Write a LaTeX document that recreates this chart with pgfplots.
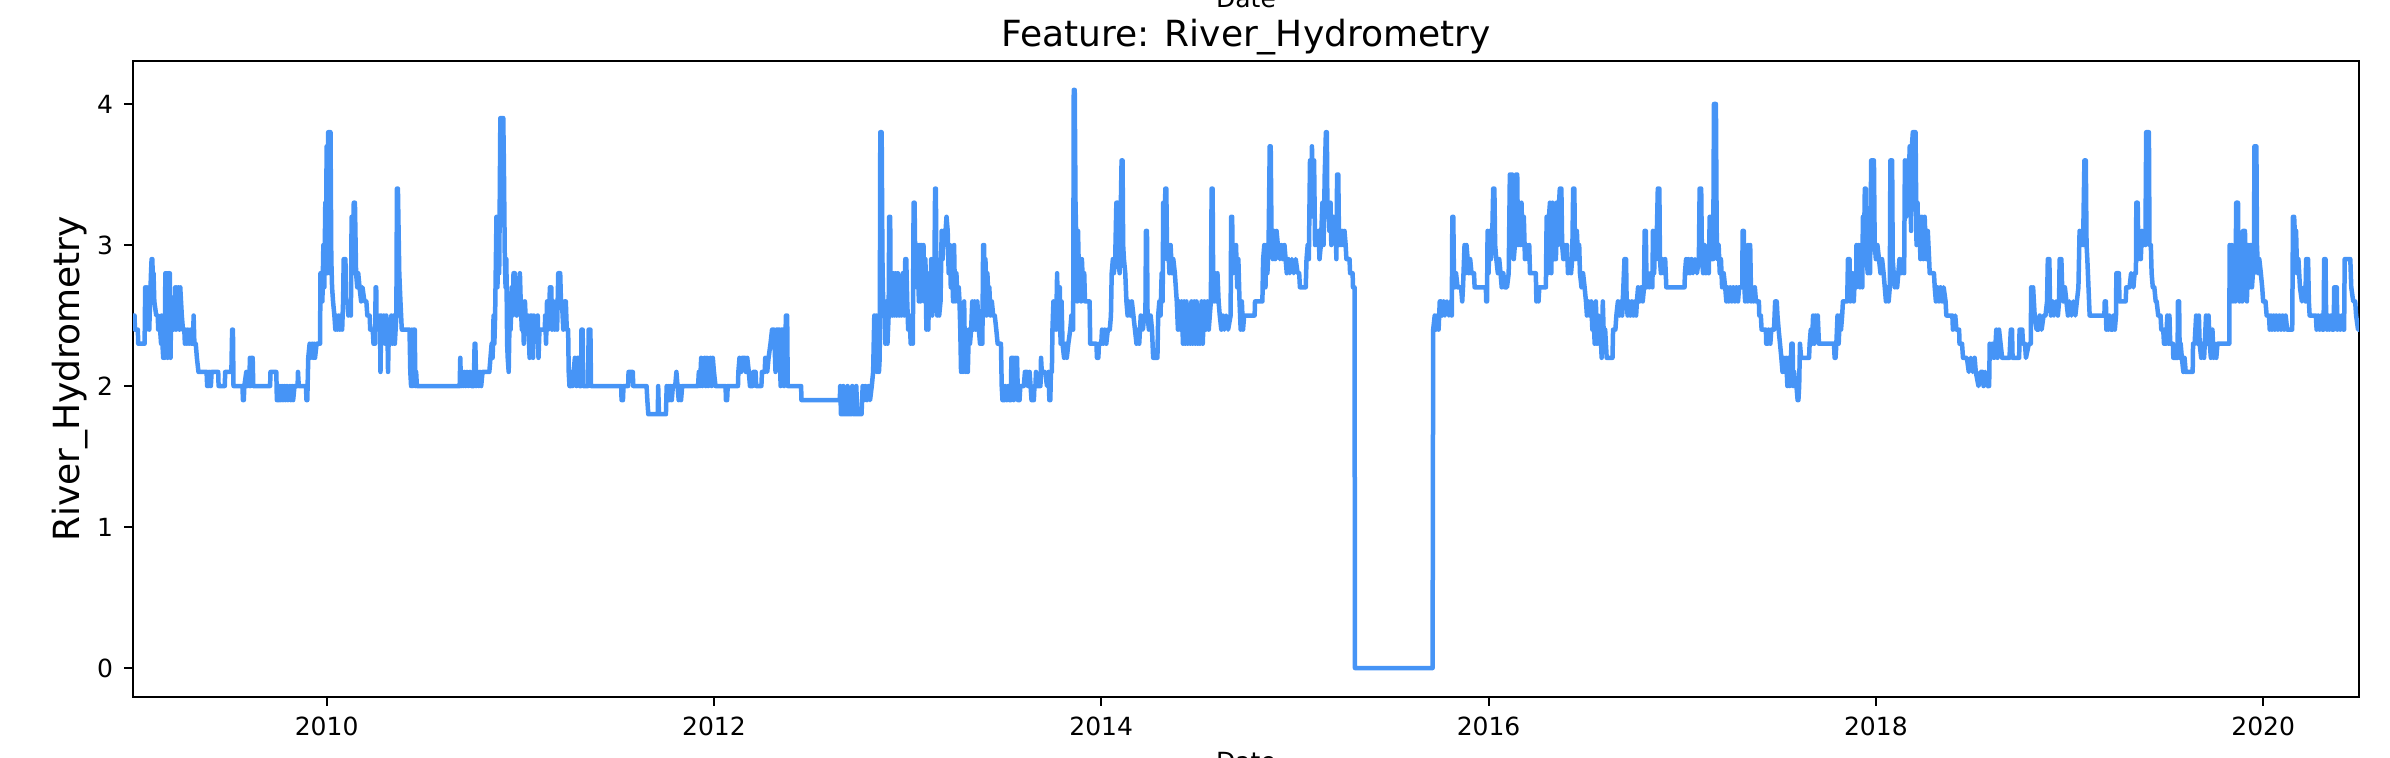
\documentclass[border=0pt]{standalone}
\usepackage{fontspec}
\setmainfont{DejaVu Sans}
\usepackage{pgfplots}
\pgfplotsset{compat=1.18}
\definecolor{lineblue}{RGB}{70,148,246}
\begin{document}
\begin{tikzpicture}
\begin{axis}[
 scale only axis, width=890.4pt, height=254.4pt,
 xmin=2009.0, xmax=2020.495, ymin=-0.205, ymax=4.305,
 xtick={2010,2012,2014,2016,2018,2020}, xticklabels={2010,2012,2014,2016,2018,2020},
 ytick={0,1,2,3,4}, yticklabels={0,1,2,3,4},
 tick align=outside, major tick length=3.5pt,
 xtick pos=bottom, ytick pos=left,
 every tick/.style={black, line width=0.8pt},
 axis line style={line width=0.8pt},
 tick label style={font=\fontsize{10}{12}\selectfont},
 xticklabel style={yshift=-1pt}, yticklabel style={xshift=-1pt},
 minor tick num=0,
]
\addplot[lineblue, line width=1.8pt, line join=round] table {
x y
2009.000 2.5
2009.008 2.5
2009.010 2.4
2009.025 2.4
2009.027 2.3
2009.060 2.3
2009.063 2.7
2009.068 2.4
2009.072 2.7
2009.077 2.5
2009.081 2.6
2009.084 2.4
2009.088 2.6
2009.093 2.8
2009.096 2.9
2009.100 2.9
2009.103 2.7
2009.106 2.8
2009.110 2.6
2009.120 2.5
2009.128 2.5
2009.130 2.4
2009.140 2.4
2009.145 2.3
2009.148 2.5
2009.152 2.3
2009.156 2.2
2009.160 2.4
2009.164 2.2
2009.167 2.8
2009.172 2.3
2009.175 2.8
2009.179 2.2
2009.183 2.8
2009.187 2.4
2009.190 2.8
2009.194 2.2
2009.197 2.6
2009.200 2.4
2009.205 2.5
2009.210 2.4
2009.214 2.5
2009.218 2.7
2009.222 2.4
2009.226 2.7
2009.231 2.5
2009.235 2.7
2009.240 2.4
2009.244 2.7
2009.248 2.6
2009.252 2.5
2009.258 2.4
2009.265 2.4
2009.268 2.3
2009.273 2.4
2009.278 2.3
2009.283 2.4
2009.290 2.3
2009.296 2.4
2009.302 2.3
2009.310 2.3
2009.313 2.5
2009.317 2.3
2009.324 2.3
2009.330 2.2
2009.338 2.1
2009.380 2.1
2009.383 2.0
2009.387 2.1
2009.392 2.0
2009.397 2.1
2009.402 2.0
2009.406 2.1
2009.440 2.1
2009.442 2.0
2009.474 2.0
2009.476 2.1
2009.508 2.1
2009.512 2.4
2009.516 2.4
2009.519 2.0
2009.565 2.0
2009.568 1.9
2009.572 1.9
2009.575 2.0
2009.585 2.1
2009.590 2.0
2009.595 2.1
2009.600 2.0
2009.604 2.2
2009.608 2.0
2009.612 2.2
2009.618 2.2
2009.621 2.0
2009.708 2.0
2009.710 2.1
2009.740 2.1
2009.743 1.9
2009.755 1.9
2009.758 2.0
2009.763 1.9
2009.770 2.0
2009.775 1.9
2009.782 2.0
2009.787 1.9
2009.795 2.0
2009.800 1.9
2009.810 2.0
2009.815 1.9
2009.822 2.0
2009.827 1.9
2009.834 2.0
2009.850 2.0
2009.852 2.1
2009.856 2.0
2009.893 2.0
2009.896 1.9
2009.900 1.9
2009.905 2.2
2009.912 2.3
2009.916 2.2
2009.925 2.3
2009.930 2.2
2009.935 2.3
2009.940 2.2
2009.948 2.3
2009.966 2.3
2009.968 2.8
2009.975 2.8
2009.978 2.6
2009.983 3.0
2009.988 2.7
2009.993 3.3
2009.996 2.9
2010.000 3.7
2010.004 2.8
2010.008 3.8
2010.020 3.8
2010.024 2.9
2010.028 2.7
2010.033 2.6
2010.040 2.5
2010.045 2.4
2010.050 2.5
2010.055 2.4
2010.062 2.5
2010.068 2.4
2010.074 2.5
2010.080 2.4
2010.085 2.6
2010.088 2.9
2010.097 2.9
2010.100 2.6
2010.108 2.6
2010.112 2.5
2010.117 2.6
2010.125 2.5
2010.129 3.2
2010.134 2.8
2010.140 3.3
2010.146 3.3
2010.152 2.8
2010.158 2.7
2010.163 2.8
2010.170 2.7
2010.178 2.6
2010.185 2.7
2010.195 2.6
2010.205 2.6
2010.210 2.5
2010.222 2.5
2010.225 2.4
2010.238 2.4
2010.242 2.3
2010.250 2.3
2010.253 2.7
2010.256 2.7
2010.258 2.4
2010.262 2.5
2010.270 2.4
2010.275 2.5
2010.278 2.1
2010.282 2.5
2010.290 2.4
2010.295 2.5
2010.302 2.3
2010.308 2.5
2010.314 2.4
2010.317 2.1
2010.321 2.4
2010.328 2.3
2010.334 2.5
2010.340 2.3
2010.346 2.5
2010.352 2.3
2010.360 2.5
2010.363 3.4
2010.368 3.4
2010.375 2.8
2010.381 2.6
2010.388 2.4
2010.428 2.4
2010.432 2.1
2010.436 2.0
2010.440 2.4
2010.445 2.0
2010.450 2.4
2010.455 2.4
2010.458 2.0
2010.462 2.1
2010.466 2.0
2010.687 2.0
2010.690 2.2
2010.694 2.0
2010.700 2.1
2010.705 2.0
2010.712 2.1
2010.718 2.0
2010.725 2.1
2010.732 2.0
2010.740 2.1
2010.748 2.0
2010.760 2.0
2010.764 2.3
2010.768 2.3
2010.772 2.0
2010.780 2.1
2010.786 2.0
2010.792 2.1
2010.798 2.0
2010.805 2.1
2010.840 2.1
2010.846 2.2
2010.852 2.3
2010.857 2.2
2010.862 2.5
2010.866 2.3
2010.870 2.5
2010.877 3.2
2010.882 2.7
2010.887 3.2
2010.891 2.8
2010.897 3.9
2010.912 3.9
2010.915 3.6
2010.920 2.9
2010.924 2.7
2010.928 2.9
2010.932 2.3
2010.935 2.2
2010.940 2.1
2010.946 2.6
2010.950 2.4
2010.955 2.7
2010.960 2.5
2010.965 2.8
2010.972 2.8
2010.976 2.6
2010.982 2.5
2010.990 2.6
2010.998 2.8
2011.002 2.6
2011.008 2.4
2011.012 2.6
2011.018 2.3
2011.024 2.6
2011.030 2.4
2011.040 2.5
2011.048 2.2
2011.053 2.5
2011.060 2.5
2011.066 2.2
2011.070 2.5
2011.076 2.4
2011.084 2.4
2011.090 2.5
2011.094 2.2
2011.099 2.4
2011.127 2.4
2011.128 2.5
2011.133 2.3
2011.138 2.6
2011.143 2.4
2011.148 2.5
2011.153 2.7
2011.160 2.7
2011.164 2.4
2011.172 2.6
2011.178 2.4
2011.184 2.5
2011.190 2.4
2011.196 2.8
2011.206 2.8
2011.210 2.6
2011.215 2.6
2011.222 2.4
2011.228 2.6
2011.235 2.6
2011.240 2.4
2011.247 2.4
2011.250 2.1
2011.254 2.0
2011.262 2.0
2011.265 2.1
2011.270 2.0
2011.275 2.1
2011.282 2.2
2011.290 2.0
2011.295 2.2
2011.303 2.2
2011.306 2.0
2011.314 2.0
2011.316 2.4
2011.322 2.4
2011.325 2.0
2011.350 2.0
2011.353 2.4
2011.362 2.4
2011.365 2.0
2011.521 2.0
2011.523 1.9
2011.530 1.9
2011.533 2.0
2011.557 2.0
2011.559 2.1
2011.581 2.1
2011.583 2.0
2011.652 2.0
2011.656 1.9
2011.661 1.8
2011.710 1.8
2011.712 2.0
2011.716 1.8
2011.752 1.8
2011.756 2.0
2011.762 1.9
2011.767 2.0
2011.772 1.9
2011.777 2.0
2011.782 1.9
2011.788 2.0
2011.800 2.0
2011.806 2.1
2011.812 2.0
2011.818 1.9
2011.824 2.0
2011.830 1.9
2011.836 2.0
2011.918 2.0
2011.922 2.1
2011.928 2.0
2011.934 2.2
2011.940 2.0
2011.946 2.1
2011.952 2.2
2011.958 2.0
2011.964 2.2
2011.970 2.0
2011.976 2.1
2011.982 2.2
2011.988 2.0
2011.994 2.2
2012.000 2.1
2012.008 2.0
2012.060 2.0
2012.062 1.9
2012.068 1.9
2012.071 2.0
2012.124 2.0
2012.126 2.1
2012.132 2.2
2012.140 2.1
2012.146 2.2
2012.160 2.2
2012.165 2.1
2012.172 2.2
2012.180 2.1
2012.186 2.0
2012.200 2.0
2012.203 2.1
2012.215 2.1
2012.218 2.0
2012.245 2.0
2012.248 2.1
2012.262 2.1
2012.265 2.2
2012.275 2.1
2012.282 2.2
2012.292 2.3
2012.300 2.4
2012.310 2.4
2012.318 2.1
2012.322 2.4
2012.340 2.4
2012.344 2.0
2012.348 2.4
2012.355 2.4
2012.362 2.0
2012.372 2.5
2012.378 2.5
2012.381 2.0
2012.450 2.0
2012.452 1.9
2012.650 1.9
2012.652 2.0
2012.656 1.8
2012.665 1.8
2012.668 2.0
2012.672 1.8
2012.688 1.8
2012.690 2.0
2012.694 1.8
2012.710 1.8
2012.714 2.0
2012.720 1.8
2012.732 1.8
2012.735 2.0
2012.740 1.8
2012.762 1.8
2012.768 2.0
2012.775 1.9
2012.782 2.0
2012.790 1.9
2012.798 2.0
2012.806 1.9
2012.815 2.0
2012.822 2.1
2012.828 2.5
2012.833 2.2
2012.838 2.5
2012.842 2.1
2012.848 2.4
2012.852 2.1
2012.856 2.2
2012.859 3.8
2012.866 3.8
2012.870 2.9
2012.875 2.5
2012.880 2.6
2012.885 2.3
2012.890 2.6
2012.896 2.3
2012.902 2.5
2012.905 3.2
2012.910 3.2
2012.913 2.5
2012.918 2.8
2012.922 2.5
2012.927 2.8
2012.932 2.5
2012.938 2.8
2012.944 2.5
2012.950 2.8
2012.956 2.5
2012.962 2.7
2012.968 2.5
2012.975 2.8
2012.983 2.5
2012.988 2.9
2012.993 2.9
2012.998 2.6
2013.003 2.4
2013.010 2.5
2013.016 2.3
2013.022 2.4
2013.027 2.3
2013.031 3.3
2013.036 3.3
2013.040 2.8
2013.044 3.0
2013.048 2.7
2013.053 3.0
2013.058 2.6
2013.063 3.0
2013.067 2.6
2013.072 3.0
2013.077 2.7
2013.082 3.0
2013.087 2.6
2013.092 2.9
2013.097 2.4
2013.102 2.7
2013.107 2.4
2013.112 2.8
2013.117 2.5
2013.122 2.9
2013.127 2.5
2013.132 2.9
2013.137 2.6
2013.142 3.4
2013.146 3.4
2013.149 2.7
2013.153 2.5
2013.158 2.6
2013.163 2.5
2013.170 2.6
2013.176 3.1
2013.181 2.9
2013.186 3.1
2013.191 3.0
2013.196 3.1
2013.201 3.2
2013.207 3.1
2013.212 2.8
2013.218 3.0
2013.223 2.7
2013.228 2.9
2013.235 2.6
2013.240 3.0
2013.245 2.6
2013.252 2.8
2013.258 2.6
2013.264 2.7
2013.268 2.6
2013.272 2.4
2013.276 2.1
2013.282 2.3
2013.286 2.1
2013.292 2.6
2013.296 2.2
2013.300 2.1
2013.306 2.3
2013.311 2.1
2013.316 2.4
2013.322 2.3
2013.328 2.4
2013.334 2.6
2013.340 2.4
2013.346 2.6
2013.352 2.4
2013.360 2.6
2013.368 2.4
2013.374 2.3
2013.386 2.3
2013.390 3.0
2013.395 3.0
2013.398 2.6
2013.402 2.9
2013.407 2.5
2013.412 2.8
2013.418 2.6
2013.422 2.7
2013.428 2.5
2013.435 2.6
2013.442 2.5
2013.450 2.5
2013.458 2.4
2013.465 2.3
2013.482 2.3
2013.486 2.0
2013.490 1.9
2013.500 1.9
2013.504 2.0
2013.512 1.9
2013.520 2.0
2013.526 1.9
2013.533 1.9
2013.536 2.2
2013.545 2.2
2013.548 1.9
2013.555 2.2
2013.560 2.0
2013.565 2.2
2013.570 1.9
2013.578 1.9
2013.582 2.0
2013.600 2.0
2013.606 2.1
2013.618 2.1
2013.622 2.0
2013.630 2.1
2013.635 2.0
2013.640 1.9
2013.652 1.9
2013.655 2.0
2013.660 2.0
2013.663 2.1
2013.668 2.0
2013.686 2.0
2013.689 2.2
2013.693 2.1
2013.710 2.1
2013.720 2.0
2013.728 2.1
2013.732 1.9
2013.737 1.9
2013.740 2.1
2013.745 2.1
2013.748 2.4
2013.753 2.6
2013.758 2.4
2013.763 2.6
2013.767 2.4
2013.772 2.8
2013.776 2.5
2013.781 2.4
2013.786 2.7
2013.790 2.3
2013.795 2.6
2013.800 2.3
2013.808 2.2
2013.815 2.3
2013.822 2.2
2013.830 2.3
2013.840 2.4
2013.846 2.5
2013.855 2.4
2013.858 4.1
2013.863 4.1
2013.867 3.3
2013.870 3.1
2013.876 2.6
2013.880 3.1
2013.886 2.7
2013.890 2.9
2013.896 2.6
2013.900 2.9
2013.906 2.7
2013.912 2.8
2013.916 2.6
2013.940 2.6
2013.943 2.3
2013.975 2.3
2013.978 2.2
2013.985 2.2
2013.988 2.3
2014.000 2.3
2014.004 2.4
2014.010 2.3
2014.018 2.4
2014.026 2.3
2014.034 2.4
2014.044 2.4
2014.050 2.5
2014.054 2.8
2014.060 2.9
2014.065 2.8
2014.072 2.9
2014.078 3.3
2014.085 3.3
2014.088 2.9
2014.095 2.8
2014.100 3.2
2014.105 3.6
2014.110 3.6
2014.113 3.0
2014.117 2.9
2014.124 2.8
2014.130 2.6
2014.136 2.5
2014.142 2.6
2014.150 2.5
2014.158 2.6
2014.166 2.5
2014.174 2.4
2014.182 2.3
2014.188 2.4
2014.196 2.3
2014.204 2.5
2014.215 2.4
2014.222 2.5
2014.228 2.5
2014.231 3.1
2014.236 3.1
2014.239 2.5
2014.246 2.4
2014.255 2.5
2014.262 2.4
2014.268 2.2
2014.290 2.2
2014.294 2.5
2014.300 2.6
2014.306 2.5
2014.312 2.8
2014.317 2.6
2014.320 3.3
2014.325 3.0
2014.331 3.4
2014.336 3.4
2014.340 2.9
2014.346 3.0
2014.352 2.8
2014.358 3.0
2014.365 2.8
2014.372 2.9
2014.380 2.8
2014.390 2.6
2014.396 2.4
2014.402 2.6
2014.408 2.4
2014.415 2.6
2014.422 2.3
2014.428 2.6
2014.434 2.3
2014.440 2.6
2014.446 2.3
2014.452 2.5
2014.460 2.3
2014.466 2.6
2014.472 2.3
2014.480 2.6
2014.486 2.3
2014.492 2.6
2014.498 2.3
2014.504 2.5
2014.510 2.3
2014.518 2.6
2014.524 2.3
2014.532 2.6
2014.540 2.4
2014.548 2.6
2014.555 2.4
2014.566 2.6
2014.570 3.4
2014.575 3.4
2014.578 2.7
2014.583 2.6
2014.588 2.8
2014.594 2.6
2014.600 2.8
2014.606 2.6
2014.612 2.5
2014.620 2.4
2014.628 2.5
2014.636 2.4
2014.645 2.5
2014.655 2.4
2014.668 2.5
2014.671 3.2
2014.676 3.2
2014.679 2.8
2014.684 3.0
2014.690 2.9
2014.696 3.0
2014.702 2.7
2014.708 2.9
2014.714 2.6
2014.720 2.4
2014.726 2.6
2014.732 2.4
2014.738 2.5
2014.792 2.5
2014.794 2.6
2014.832 2.6
2014.836 2.9
2014.842 3.0
2014.848 2.7
2014.853 3.0
2014.858 2.8
2014.864 3.0
2014.870 3.7
2014.875 3.7
2014.879 3.1
2014.886 2.9
2014.892 3.1
2014.898 2.9
2014.905 3.1
2014.912 3.0
2014.922 2.9
2014.930 3.0
2014.938 2.9
2014.946 3.0
2014.952 2.9
2014.958 2.8
2014.966 2.9
2014.974 2.8
2014.984 2.9
2014.994 2.8
2015.004 2.9
2015.014 2.8
2015.022 2.8
2015.026 2.7
2015.056 2.7
2015.060 2.9
2015.066 3.0
2015.072 2.9
2015.078 3.6
2015.083 3.2
2015.088 3.7
2015.094 3.3
2015.099 3.6
2015.104 3.0
2015.110 3.1
2015.116 3.0
2015.122 3.1
2015.127 2.9
2015.134 3.0
2015.142 3.3
2015.148 3.0
2015.154 3.5
2015.160 3.8
2015.165 3.8
2015.168 3.2
2015.172 3.3
2015.178 3.1
2015.184 3.3
2015.188 3.0
2015.193 3.1
2015.198 3.2
2015.204 3.1
2015.210 3.2
2015.214 2.9
2015.218 3.5
2015.224 3.5
2015.228 3.0
2015.232 3.1
2015.238 3.0
2015.244 3.1
2015.250 3.0
2015.256 3.1
2015.262 3.0
2015.266 2.9
2015.282 2.9
2015.285 2.8
2015.298 2.8
2015.300 2.7
2015.308 2.7
2015.310 0
2015.711 0
2015.714 2.4
2015.722 2.5
2015.728 2.4
2015.735 2.5
2015.742 2.4
2015.748 2.6
2015.755 2.6
2015.760 2.5
2015.768 2.6
2015.775 2.5
2015.785 2.6
2015.795 2.5
2015.805 2.6
2015.810 2.5
2015.813 3.2
2015.818 3.2
2015.821 2.8
2015.826 2.7
2015.832 2.8
2015.840 2.7
2015.850 2.7
2015.858 2.7
2015.864 2.6
2015.868 2.7
2015.876 3.0
2015.881 2.8
2015.886 3.0
2015.892 2.9
2015.898 2.8
2015.905 2.9
2015.912 2.8
2015.925 2.8
2015.928 2.7
2015.986 2.7
2015.988 2.6
2015.992 2.6
2015.995 3.1
2016.000 2.8
2016.006 3.1
2016.012 2.9
2016.018 3.0
2016.024 3.4
2016.030 3.4
2016.034 3.0
2016.040 2.9
2016.048 2.8
2016.055 2.9
2016.062 2.8
2016.068 2.7
2016.076 2.8
2016.084 2.7
2016.095 2.7
2016.104 2.8
2016.110 3.5
2016.122 3.5
2016.125 3.0
2016.130 2.9
2016.136 3.0
2016.142 3.5
2016.148 3.5
2016.152 3.0
2016.158 3.3
2016.164 3.0
2016.170 3.3
2016.176 3.0
2016.182 3.2
2016.188 2.9
2016.195 3.0
2016.202 2.9
2016.210 3.0
2016.214 2.8
2016.244 2.8
2016.247 2.6
2016.252 2.7
2016.258 2.6
2016.262 2.7
2016.296 2.7
2016.300 3.2
2016.306 2.8
2016.312 3.2
2016.317 3.3
2016.324 2.8
2016.330 3.3
2016.334 2.9
2016.348 2.9
2016.351 3.3
2016.358 3.0
2016.364 3.3
2016.368 3.4
2016.376 3.4
2016.380 3.0
2016.386 2.9
2016.392 3.0
2016.398 2.9
2016.405 3.0
2016.410 2.8
2016.418 2.9
2016.426 2.8
2016.432 2.9
2016.437 3.4
2016.443 3.4
2016.446 3.0
2016.450 2.9
2016.456 3.1
2016.462 2.9
2016.468 3.0
2016.472 2.8
2016.480 2.7
2016.488 2.8
2016.496 2.7
2016.503 2.6
2016.508 2.5
2016.515 2.6
2016.522 2.5
2016.530 2.6
2016.536 2.4
2016.542 2.5
2016.548 2.3
2016.554 2.6
2016.560 2.3
2016.566 2.5
2016.572 2.3
2016.578 2.4
2016.584 2.2
2016.590 2.6
2016.596 2.3
2016.602 2.4
2016.610 2.2
2016.640 2.2
2016.643 2.4
2016.655 2.4
2016.660 2.5
2016.668 2.6
2016.676 2.5
2016.684 2.6
2016.690 2.5
2016.702 2.9
2016.710 2.9
2016.713 2.6
2016.718 2.5
2016.725 2.6
2016.732 2.5
2016.740 2.6
2016.748 2.5
2016.756 2.6
2016.762 2.5
2016.766 2.6
2016.772 2.7
2016.780 2.6
2016.788 2.7
2016.796 2.6
2016.803 2.7
2016.806 3.1
2016.812 3.1
2016.816 2.7
2016.822 2.8
2016.830 2.7
2016.838 2.8
2016.846 2.7
2016.849 3.1
2016.855 2.8
2016.861 3.1
2016.866 2.9
2016.874 3.4
2016.882 3.4
2016.885 2.9
2016.890 2.8
2016.897 2.9
2016.905 2.8
2016.912 2.9
2016.918 2.7
2017.012 2.7
2017.014 2.8
2017.020 2.9
2017.026 2.8
2017.032 2.9
2017.040 2.8
2017.048 2.9
2017.056 2.8
2017.066 2.9
2017.076 2.8
2017.086 2.9
2017.090 3.4
2017.098 3.4
2017.102 2.9
2017.108 2.8
2017.115 3.0
2017.122 2.8
2017.130 2.9
2017.137 2.8
2017.142 3.2
2017.150 3.2
2017.153 2.9
2017.160 2.9
2017.164 4.0
2017.174 4.0
2017.178 3.1
2017.182 2.9
2017.188 3.0
2017.194 2.8
2017.200 2.9
2017.206 2.7
2017.214 2.8
2017.222 2.7
2017.228 2.6
2017.234 2.7
2017.240 2.6
2017.248 2.7
2017.256 2.6
2017.264 2.7
2017.272 2.6
2017.280 2.7
2017.288 2.6
2017.294 2.7
2017.310 2.7
2017.312 3.1
2017.318 3.1
2017.321 2.7
2017.325 2.6
2017.332 2.7
2017.338 2.6
2017.340 3.0
2017.346 2.7
2017.351 3.0
2017.356 2.6
2017.362 2.7
2017.368 2.6
2017.375 2.7
2017.381 2.6
2017.396 2.6
2017.398 2.5
2017.406 2.5
2017.410 2.4
2017.432 2.4
2017.434 2.3
2017.442 2.3
2017.446 2.4
2017.455 2.3
2017.460 2.4
2017.474 2.4
2017.477 2.5
2017.480 2.6
2017.488 2.6
2017.492 2.5
2017.498 2.4
2017.505 2.3
2017.512 2.2
2017.518 2.1
2017.524 2.2
2017.530 2.1
2017.537 2.2
2017.543 2.0
2017.549 2.2
2017.555 2.0
2017.560 2.1
2017.564 2.3
2017.570 2.3
2017.573 2.0
2017.578 2.1
2017.584 2.0
2017.590 2.0
2017.596 1.9
2017.600 1.9
2017.604 2.0
2017.608 2.3
2017.614 2.2
2017.655 2.2
2017.658 2.3
2017.664 2.4
2017.670 2.3
2017.676 2.5
2017.682 2.3
2017.688 2.5
2017.694 2.4
2017.700 2.5
2017.706 2.3
2017.784 2.3
2017.787 2.2
2017.792 2.2
2017.796 2.3
2017.802 2.5
2017.808 2.3
2017.814 2.5
2017.820 2.4
2017.826 2.5
2017.830 2.6
2017.852 2.6
2017.856 2.9
2017.864 2.9
2017.868 2.6
2017.874 2.7
2017.880 2.8
2017.886 2.6
2017.892 2.8
2017.898 2.7
2017.900 3.0
2017.906 2.8
2017.912 3.0
2017.918 2.7
2017.924 2.8
2017.930 2.7
2017.933 3.2
2017.938 2.9
2017.943 3.4
2017.948 3.4
2017.952 2.9
2017.958 2.8
2017.965 3.0
2017.970 2.8
2017.976 3.6
2017.990 3.6
2017.994 3.0
2018.000 2.9
2018.008 3.0
2018.016 2.9
2018.024 2.8
2018.032 2.9
2018.040 2.8
2018.046 2.7
2018.052 2.6
2018.058 2.7
2018.066 2.6
2018.072 2.7
2018.075 3.6
2018.084 3.6
2018.087 2.9
2018.092 2.8
2018.098 2.7
2018.104 2.8
2018.110 2.7
2018.116 2.8
2018.122 2.9
2018.130 2.8
2018.138 2.9
2018.146 2.8
2018.150 3.6
2018.156 3.2
2018.162 3.6
2018.168 3.4
2018.175 3.7
2018.182 3.1
2018.186 3.7
2018.191 3.8
2018.205 3.8
2018.210 3.0
2018.215 3.3
2018.220 3.0
2018.225 3.2
2018.230 2.9
2018.238 3.2
2018.245 2.9
2018.252 3.2
2018.260 2.9
2018.268 3.1
2018.275 2.9
2018.278 2.8
2018.300 2.8
2018.304 2.7
2018.310 2.6
2018.318 2.7
2018.326 2.6
2018.334 2.7
2018.342 2.6
2018.350 2.7
2018.360 2.6
2018.364 2.5
2018.395 2.5
2018.398 2.4
2018.410 2.5
2018.416 2.4
2018.430 2.4
2018.432 2.3
2018.445 2.3
2018.450 2.2
2018.470 2.2
2018.480 2.1
2018.490 2.2
2018.500 2.1
2018.510 2.2
2018.516 2.1
2018.530 2.0
2018.540 2.1
2018.552 2.1
2018.556 2.0
2018.565 2.1
2018.575 2.0
2018.585 2.0
2018.588 2.3
2018.595 2.2
2018.602 2.3
2018.610 2.2
2018.618 2.3
2018.622 2.4
2018.628 2.2
2018.636 2.4
2018.644 2.3
2018.652 2.2
2018.690 2.2
2018.697 2.4
2018.703 2.4
2018.706 2.2
2018.740 2.2
2018.742 2.4
2018.756 2.4
2018.760 2.3
2018.770 2.3
2018.775 2.2
2018.790 2.3
2018.800 2.3
2018.802 2.7
2018.808 2.6
2018.812 2.7
2018.820 2.5
2018.830 2.4
2018.840 2.4
2018.846 2.5
2018.856 2.4
2018.866 2.5
2018.876 2.5
2018.884 2.6
2018.888 2.9
2018.896 2.9
2018.899 2.6
2018.904 2.5
2018.912 2.6
2018.920 2.5
2018.930 2.6
2018.940 2.5
2018.946 2.6
2018.949 2.9
2018.958 2.9
2018.962 2.7
2018.968 2.6
2018.976 2.7
2018.984 2.6
2018.992 2.5
2019.000 2.6
2019.010 2.5
2019.020 2.6
2019.030 2.5
2019.038 2.6
2019.046 2.7
2019.052 3.1
2019.058 3.0
2019.062 3.1
2019.070 3.0
2019.077 3.6
2019.084 3.6
2019.088 3.0
2019.092 2.9
2019.098 2.7
2019.104 2.5
2019.180 2.5
2019.182 2.6
2019.188 2.6
2019.190 2.4
2019.195 2.5
2019.200 2.4
2019.206 2.5
2019.214 2.4
2019.222 2.4
2019.228 2.5
2019.234 2.4
2019.240 2.5
2019.242 2.8
2019.255 2.8
2019.258 2.6
2019.290 2.6
2019.293 2.7
2019.310 2.7
2019.318 2.8
2019.330 2.7
2019.336 2.8
2019.343 2.8
2019.345 3.3
2019.352 3.3
2019.356 2.9
2019.362 3.1
2019.368 2.9
2019.374 3.1
2019.380 3.0
2019.386 3.1
2019.392 3.0
2019.396 3.8
2019.410 3.8
2019.413 3.0
2019.420 3.0
2019.424 2.8
2019.430 2.7
2019.438 2.7
2019.445 2.6
2019.450 2.6
2019.458 2.5
2019.470 2.5
2019.474 2.4
2019.484 2.4
2019.488 2.3
2019.498 2.3
2019.505 2.5
2019.512 2.3
2019.516 2.5
2019.520 2.3
2019.534 2.3
2019.536 2.2
2019.558 2.2
2019.560 2.6
2019.566 2.6
2019.569 2.2
2019.574 2.3
2019.580 2.2
2019.588 2.1
2019.594 2.2
2019.600 2.1
2019.636 2.1
2019.638 2.3
2019.646 2.3
2019.654 2.5
2019.662 2.3
2019.668 2.5
2019.672 2.3
2019.680 2.2
2019.686 2.3
2019.695 2.2
2019.705 2.5
2019.712 2.3
2019.718 2.5
2019.724 2.3
2019.730 2.2
2019.738 2.4
2019.744 2.2
2019.750 2.3
2019.758 2.2
2019.764 2.3
2019.825 2.3
2019.827 3.0
2019.832 2.6
2019.838 3.0
2019.844 2.6
2019.850 2.9
2019.856 2.6
2019.861 3.3
2019.870 3.3
2019.874 2.7
2019.878 2.6
2019.885 2.7
2019.892 2.6
2019.896 3.1
2019.906 3.1
2019.910 2.7
2019.916 2.6
2019.922 3.0
2019.930 2.7
2019.936 3.0
2019.942 2.7
2019.947 2.8
2019.952 2.8
2019.955 3.7
2019.965 3.7
2019.968 3.0
2019.974 2.8
2019.980 2.9
2019.988 2.8
2019.995 2.7
2020.000 2.6
2020.012 2.6
2020.018 2.5
2020.030 2.5
2020.034 2.4
2020.040 2.5
2020.046 2.4
2020.054 2.5
2020.060 2.4
2020.068 2.5
2020.076 2.4
2020.084 2.5
2020.092 2.4
2020.100 2.5
2020.108 2.4
2020.116 2.5
2020.124 2.4
2020.150 2.4
2020.154 3.2
2020.160 3.2
2020.163 3.1
2020.170 3.1
2020.175 2.8
2020.182 2.9
2020.190 2.7
2020.200 2.6
2020.210 2.7
2020.218 2.6
2020.222 2.9
2020.232 2.9
2020.236 2.6
2020.240 2.5
2020.272 2.5
2020.276 2.4
2020.284 2.5
2020.292 2.4
2020.300 2.5
2020.306 2.4
2020.312 2.4
2020.315 2.9
2020.322 2.9
2020.325 2.5
2020.330 2.4
2020.336 2.5
2020.342 2.4
2020.350 2.5
2020.356 2.4
2020.364 2.4
2020.367 2.7
2020.380 2.7
2020.383 2.4
2020.390 2.5
2020.398 2.4
2020.406 2.5
2020.414 2.4
2020.418 2.4
2020.421 2.9
2020.450 2.9
2020.455 2.7
2020.465 2.6
2020.475 2.6
2020.480 2.5
2020.490 2.4
2020.495 2.4
};
\coordinate (bl) at (rel axis cs:0,0);
\coordinate (tr) at (rel axis cs:1,1);
\coordinate (tc) at (rel axis cs:0.5,1);
\coordinate (bc) at (rel axis cs:0.5,0);
\coordinate (lc) at (rel axis cs:0,0.5);
\end{axis}
\node[anchor=base, inner sep=0pt, font=\fontsize{14.4}{17}\selectfont] at ([yshift=5.6pt]tc) {Feature: River\_Hydrometry};
\node[anchor=base, inner sep=0pt, font=\fontsize{10}{12}\selectfont] at ([yshift=21.4pt]tc) {Date};
\node[anchor=base, inner sep=0pt, font=\fontsize{10}{12}\selectfont] at ([yshift=-29.6pt]bc) {Date};
\node[anchor=base, inner sep=0pt, rotate=90, font=\fontsize{14.4}{17}\selectfont] at ([xshift=-21.2pt]lc) {River\_Hydrometry};
\pgfresetboundingbox
\path[use as bounding box] ([shift={(-53.2pt,-24.4pt)}]bl) rectangle ([shift={(12.4pt,24.4pt)}]tr);
\end{tikzpicture}
\end{document}
